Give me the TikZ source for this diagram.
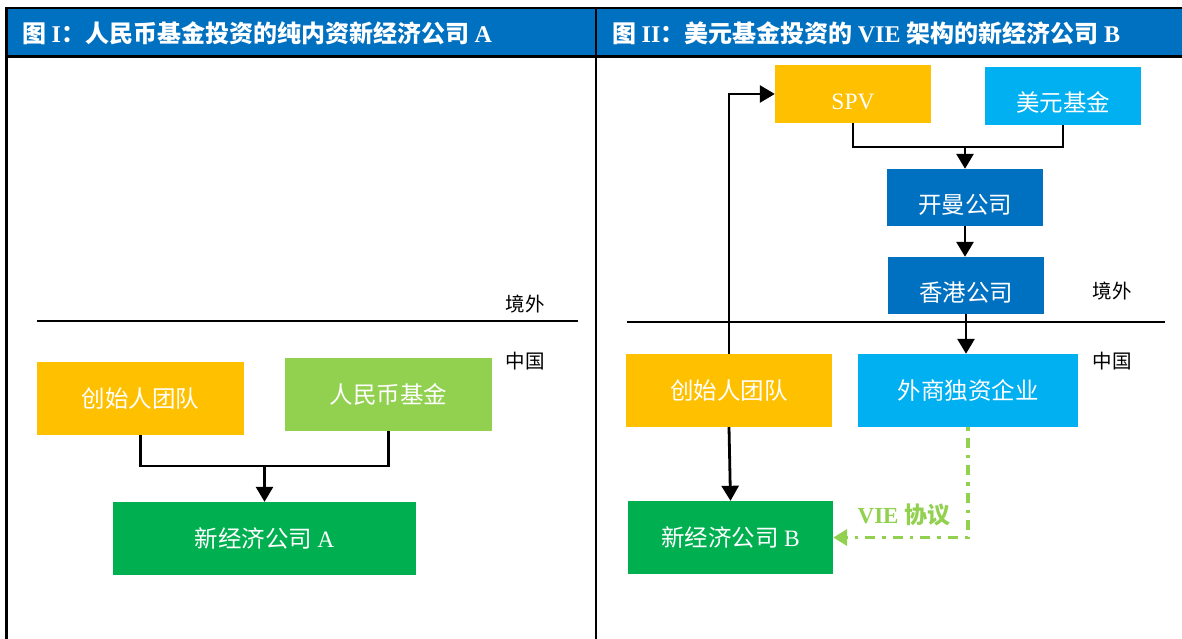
\documentclass[tikz,border=0pt]{standalone}
\usepackage{fontspec}
\setmainfont{Liberation Serif}
\newfontfamily\cjk{Noto Sans CJK SC}
\usetikzlibrary{arrows.meta,calc}
\definecolor{cOrange}{RGB}{255,192,0}
\definecolor{cLGreen}{RGB}{146,208,80}
\definecolor{cGreen}{RGB}{0,176,80}
\definecolor{cBlue}{RGB}{0,112,192}
\definecolor{cLBlue}{RGB}{0,176,240}
\tikzset{
  box/.style={draw=none,inner sep=0pt,text=white,font=\fontsize{23.5}{26}\selectfont},
  low/.style={text height=31pt,text depth=0pt},
  lab/.style={inner sep=0pt,text=black,font=\cjk\fontsize{19.5}{21}\selectfont},
  conn/.style={line width=2.8pt,draw=black},
  arr/.style={line width=2.8pt,draw=black,-{Triangle[length=15pt,width=17pt]}},
  vie/.style={line width=3.5pt,draw=cLGreen,dash pattern=on 3.5pt off 7pt on 10pt off 7pt,-{Triangle[length=14pt,width=16pt]}},
  hdr/.style={anchor=west,inner sep=0pt,text=white,font=\bfseries\fontsize{24}{26}\selectfont},
  rule/.style={line width=2pt,draw=black}
}
\begin{document}
\begin{tikzpicture}[x=1pt,y=-1pt]
\useasboundingbox (0,0) rectangle (1182,639);
% frame and header
\fill[cBlue] (6,9) rectangle (1182,56);
\draw[line width=2.2pt] (5,8) -- (1182,8);
\draw[line width=2.2pt] (5,56.5) -- (1182,56.5);
\draw[line width=2.8pt] (6.5,7) -- (6.5,639);
\draw[line width=2.8pt] (596,7) -- (596,639);
\node[hdr] (h1) at (22,33) {{\cjk 图 }I{\cjk ：人民币基金投资的纯内资新经济公司 }A};
\node[hdr] (h2) at (612,33) {{\cjk 图 }II{\cjk ：美元基金投资的 }VIE\ {\cjk 架构的新经济公司 }B};
% left panel
\draw[rule] (37,321) -- (578,321);
\node[lab] (jw1) at (525,304) {境外};
\node[lab] (zg1) at (525,361) {中国};
\node[box,fill=cOrange,minimum width=207pt,minimum height=73pt] (cs) at (140.5,398.5) {\cjk 创始人团队};
\node[box,fill=cLGreen,minimum width=207pt,minimum height=73pt] (rmb) at (388.5,394.5) {\cjk 人民币基金};
\node[box,fill=cGreen,minimum width=303pt,minimum height=73pt] (A) at (264.5,538.5) {{\cjk 新经济公司 }A};
\coordinate (j1) at (264.5,466);
\draw[conn] (cs.south) -- (cs.south |- j1) -- (rmb.south |- j1) -- (rmb.south);
\draw[arr] (j1) -- (A.north);
% right panel
\draw[rule] (627,322) -- (1165,322);
\node[lab] (jw2) at (1112,291) {境外};
\node[lab] (zg2) at (1112,361) {中国};
\node[box,low,fill=cOrange,minimum width=156pt,minimum height=58pt] (spv) at (853,94) {SPV};
\node[box,low,fill=cLBlue,minimum width=156pt,minimum height=58pt] (usd) at (1063,96) {\cjk 美元基金};
\node[box,low,fill=cBlue,minimum width=156pt,minimum height=57pt] (km) at (965,197.5) {\cjk 开曼公司};
\node[box,low,fill=cBlue,minimum width=156pt,minimum height=57pt] (hk) at (966,285.5) {\cjk 香港公司};
\node[box,fill=cLBlue,minimum width=220pt,minimum height=73pt] (wf) at (968,390.5) {\cjk 外商独资企业};
\node[box,fill=cOrange,minimum width=206pt,minimum height=73pt] (cs2) at (729,390.5) {\cjk 创始人团队};
\node[box,fill=cGreen,minimum width=205pt,minimum height=73pt] (B) at (730.5,537.5) {{\cjk 新经济公司 }B};
\coordinate (j2) at (965,147);
\draw[conn] (spv.south) -- (spv.south |- j2) -- (usd.south |- j2) -- (usd.south);
\draw[arr] (j2) -- (km.north);
\draw[arr] (km.south -| 965,0) -- (hk.north -| 965,0);
\draw[arr] (hk.south) -- (wf.north -| hk.south);
\draw[arr] (cs2.north) -- (cs2.north |- spv.west) -- (spv.west);
\draw[arr] (cs2.south) -- (B.north);
\draw[vie] (wf.south) -- (wf.south |- B.east) -- (B.east);
\node[inner sep=0pt,text=cLGreen,font=\bfseries\fontsize{23}{25}\selectfont] (vl) at (904,515) {VIE {\cjk 协议}};
\end{tikzpicture}
\end{document}
